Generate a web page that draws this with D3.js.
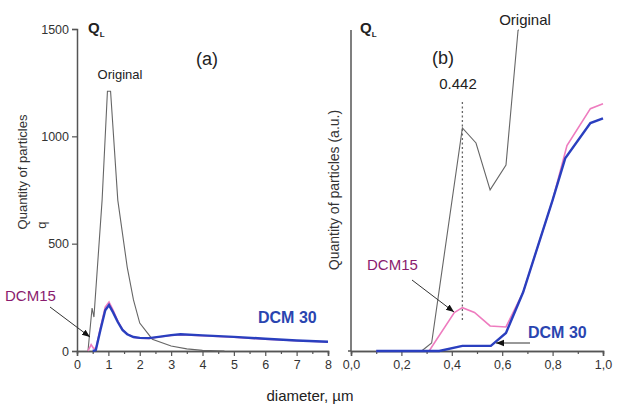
<!DOCTYPE html>
<html>
<head>
<script src="https://cdn.jsdelivr.net/npm/d3@7/dist/d3.min.js"></script>
<style>
  body { margin: 0; background: #fff; }
  text { font-family: "Liberation Sans", Arial, sans-serif; }
</style>
</head>
<body>
<script>
// panel (a): diameter 0..8 um, q 0..1500
var origA = [[0.35,0],[0.48,200],[0.54,158],[0.8,703],[0.97,1210],[1.07,1210],[1.3,703],[1.6,391],[1.8,238],[2.0,130],[2.4,55],[3.0,23],[3.5,10],[4.0,3],[4.7,0]];
var dcm15A = [[0.35,0],[0.45,30],[0.52,14],[0.6,10],[0.75,110],[0.9,205],[1.02,228],[1.15,190],[1.3,140],[1.45,100],[1.6,79],[1.8,64],[2.0,60],[2.3,59],[2.6,65],[3.0,72],[3.3,76],[4.0,71],[5.0,64],[6.0,55],[7.0,48],[8.0,42]];
var dcm30A = [[0.5,0],[0.6,4],[0.75,100],[0.9,190],[1.02,214],[1.15,180],[1.3,135],[1.45,98],[1.6,78],[1.8,65],[2.0,61],[2.3,60],[2.6,66],[3.0,74],[3.3,78],[4.0,73],[5.0,66],[6.0,57],[7.0,49],[8.0,43]];
var ticksA = [0,500,1000,1500];

// panel (b): diameter 0..1 um, arbitrary units 0..1
var origB = [[0.28,0],[0.32,0.025],[0.442,0.695],[0.496,0.648],[0.552,0.502],[0.615,0.579],[0.663,1.0]];
var dcm15B = [[0.1,0],[0.31,0],[0.41,0.12],[0.442,0.135],[0.49,0.12],[0.552,0.078],[0.615,0.075],[0.683,0.183],[0.8,0.47],[0.857,0.64],[0.95,0.755],[1.0,0.77]];
var dcm30B = [[0.1,0],[0.35,0],[0.442,0.016],[0.555,0.016],[0.615,0.056],[0.683,0.183],[0.8,0.47],[0.85,0.6],[0.95,0.71],[1.0,0.725]];
var markB = 0.442;

var W = 617, H = 412;
var svg = d3.select('body').append('svg')
  .attr('width', W).attr('height', H);

var defs = svg.append('defs');
defs.append('marker')
  .attr('id', 'arr')
  .attr('viewBox', '0 0 10 10')
  .attr('refX', 10).attr('refY', 5)
  .attr('markerWidth', 8).attr('markerHeight', 8)
  .attr('markerUnits', 'userSpaceOnUse')
  .attr('orient', 'auto')
  .append('path').attr('d', 'M0,1 L10,5 L0,9 Z').attr('fill', '#111');

var axisCol = '#555';

// ---------- panel (a)
var xa = d3.scaleLinear().domain([0, 8]).range([77, 328]);
var ya = d3.scaleLinear().domain([0, 1500]).range([351, 29]);

var gA = svg.append('g');
var xAxA = d3.axisBottom(xa).tickValues(d3.range(0, 8.01, 1)).tickSize(5).tickPadding(4).tickFormat(d3.format('d'));
var xMinA = d3.axisBottom(xa).tickValues(d3.range(0.5, 8, 1)).tickSize(3).tickFormat('');
var yAxA = d3.axisLeft(ya).tickValues(ticksA).tickSize(5).tickPadding(3).tickFormat(d3.format('d'));

[xAxA, xMinA].forEach(function(ax) {
  gA.append('g').attr('transform', 'translate(0,351)').call(ax);
});
gA.append('g').attr('transform', 'translate(77,0)').call(yAxA);

var line = d3.line();
function lineA(d) { return line(d.map(function(p) { return [xa(p[0]), ya(p[1])]; })); }

gA.append('path').attr('d', lineA(origA)).attr('fill', 'none').attr('stroke', '#666').attr('stroke-width', 1.1);
gA.append('path').attr('d', lineA(dcm15A)).attr('fill', 'none').attr('stroke', '#ee7cbf').attr('stroke-width', 1.6);
gA.append('path').attr('d', lineA(dcm30A)).attr('fill', 'none').attr('stroke', '#2a3fbf').attr('stroke-width', 2.4);

// ---------- panel (b)
var xb = d3.scaleLinear().domain([0, 1]).range([351, 603]);
var yb = d3.scaleLinear().domain([0, 1]).range([351, 30]);

var gB = svg.append('g');
var fmtB = function(d) { return d3.format('.1f')(d).replace('.', ','); };
var xAxB = d3.axisBottom(xb).tickValues(d3.range(0, 1.01, 0.2)).tickSize(5).tickPadding(4).tickFormat(fmtB);
var xMinB = d3.axisBottom(xb).tickValues([0.1, 0.3, 0.5, 0.7, 0.9]).tickSize(3).tickFormat('');
[xAxB, xMinB].forEach(function(ax) {
  gB.append('g').attr('transform', 'translate(0,351)').call(ax);
});
gB.append('line').attr('x1', 351).attr('x2', 351).attr('y1', yb(1)).attr('y2', 351)
  .attr('stroke', axisCol).attr('stroke-width', 1.5);
gB.append('line').attr('x1', 348).attr('x2', 351).attr('y1', 351).attr('y2', 351)
  .attr('stroke', axisCol).attr('stroke-width', 1.5);

function lineB(d) { return line(d.map(function(p) { return [xb(p[0]), yb(p[1])]; })); }

gB.append('line').attr('x1', xb(markB)).attr('x2', xb(markB)).attr('y1', 102).attr('y2', 322)
  .attr('stroke', '#666').attr('stroke-width', 1.3).attr('stroke-dasharray', '2,2.5');
gB.append('path').attr('d', lineB(origB)).attr('fill', 'none').attr('stroke', '#666').attr('stroke-width', 1.1);
gB.append('path').attr('d', lineB(dcm15B)).attr('fill', 'none').attr('stroke', '#ee7cbf').attr('stroke-width', 1.6);
gB.append('path').attr('d', lineB(dcm30B)).attr('fill', 'none').attr('stroke', '#2a3fbf').attr('stroke-width', 2.4);

// axis styling
svg.selectAll('.domain').attr('stroke', axisCol).attr('stroke-width', 1.5);
svg.selectAll('.tick line').attr('stroke', axisCol).attr('stroke-width', 1.2);
svg.selectAll('.tick text').attr('fill', '#333').style('font-size', '12.5px')
  .style('font-family', '"Liberation Sans", Arial, sans-serif');

// ---------- annotations
function txt(x, y, s, size, opts) {
  opts = opts || {};
  var t = svg.append('text').attr('x', x).attr('y', y).text(s)
    .style('font-size', size + 'px')
    .attr('fill', opts.fill || '#222')
    .attr('text-anchor', opts.anchor || 'start');
  if (opts.bold) t.style('font-weight', 'bold');
  if (opts.rot) t.attr('transform', 'rotate(-90,' + x + ',' + y + ')');
  return t;
}
function ql(x, y) {
  var t = svg.append('text').attr('x', x).attr('y', y).attr('fill', '#222')
    .style('font-size', '15px').style('font-weight', 'bold');
  t.append('tspan').text('Q');
  t.append('tspan').text('L').attr('dy', 4).style('font-size', '8px');
}
ql(88, 33);
ql(360, 33);

txt(207, 65, '(a)', 18, { anchor: 'middle' });
txt(120, 79, 'Original', 13, { anchor: 'middle' });
txt(443, 64, '(b)', 18, { anchor: 'middle' });
txt(458, 89, '0.442', 15, { anchor: 'middle' });
txt(525, 25, 'Original', 15, { anchor: 'middle' });
// pointer from right "Original" label down to its curve
svg.append('line').attr('x1', xb(0.663)).attr('y1', yb(1)).attr('x2', 519).attr('y2', 30)
  .attr('stroke', '#666').attr('stroke-width', 1.1);

txt(27, 172, 'Quantity of particles', 13, { anchor: 'middle', rot: true, fill: '#333' });
txt(46, 225, 'q', 13, { anchor: 'middle', rot: true, fill: '#333' });
txt(339, 190, 'Quantity of particles  (a.u.)', 14, { anchor: 'middle', rot: true, fill: '#333' });

txt(5, 301, 'DCM15', 15, { fill: '#8a1b6e' });
txt(258, 323, 'DCM 30', 16, { fill: '#2a45b0', bold: true });
txt(367, 270, 'DCM15', 15, { fill: '#8a1b6e' });
txt(528, 338, 'DCM 30', 16, { fill: '#2a45b0', bold: true });

function arrow(x1, y1, x2, y2) {
  svg.append('line').attr('x1', x1).attr('y1', y1).attr('x2', x2).attr('y2', y2)
    .attr('stroke', '#333').attr('stroke-width', 1).attr('marker-end', 'url(#arr)');
}
arrow(50, 307, 90, 337);
arrow(412, 280, 454, 312);
arrow(530, 343, 496, 343);

txt(310, 401, 'diameter, \u00b5m', 15, { anchor: 'middle', fill: '#222' });
</script>
</body>
</html>
